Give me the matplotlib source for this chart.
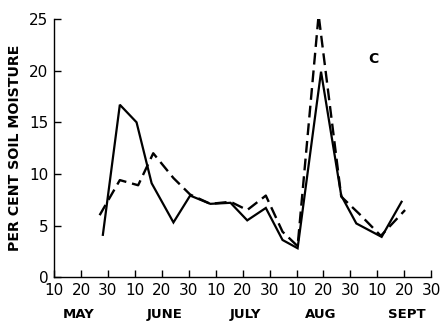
import matplotlib
matplotlib.use('Agg')
import matplotlib.pyplot as plt

# x positions: days after 1 May on the chart's 10-day grid (10 May = 10, 30 Sept = 150)
solid_day = [28.1, 34.4, 40.6, 46.2, 54.3, 60.5, 68.0, 75.5, 81.7, 88.6, 94.8, 100.4, 109.1, 116.6, 122.2, 131.6, 139.0]
solid_pct = [4.1, 16.7, 15.0, 9.1, 5.3, 7.9, 7.1, 7.2, 5.5, 6.7, 3.6, 2.8, 19.9, 7.9, 5.2, 3.9, 7.3]

dashed_day = [26.9, 34.4, 41.2, 46.8, 54.3, 60.5, 68.0, 75.5, 81.7, 88.6, 94.8, 100.4, 108.2, 116.6, 123.4, 131.3, 140.3]
dashed_pct = [6.0, 9.4, 8.9, 12.0, 9.6, 8.0, 7.1, 7.3, 6.5, 7.9, 4.4, 3.0, 25.4, 7.8, 6.1, 4.0, 6.5]

tick_days = list(range(10, 151, 10))
tick_labels = ['10', '20', '30'] * 5
months = ['MAY', 'JUNE', 'JULY', 'AUG', 'SEPT']
month_pos = [19, 51, 81, 109, 141]

fig = plt.figure(figsize=(4.4, 3.23), dpi=100)
ax = fig.add_axes([0.123, 0.142, 0.857, 0.799])

ax.plot(solid_day, solid_pct, color='black', linewidth=1.6, solid_joinstyle='miter')
ax.plot(dashed_day, dashed_pct, color='black', linewidth=1.7, dashes=(5, 2.5))

ax.set_xlim(10, 150)
ax.set_ylim(0, 25)
ax.spines['top'].set_visible(False)
ax.spines['right'].set_visible(False)
ax.spines['left'].set_linewidth(1.0)
ax.spines['bottom'].set_linewidth(1.0)

tick_font = ['Liberation Sans Narrow', 'DejaVu Sans']
ax.set_xticks(tick_days)
ax.set_xticklabels(tick_labels, family=tick_font, fontsize=11)
ax.set_yticks([0, 5, 10, 15, 20, 25])
ax.set_yticklabels(['0', '5', '10', '15', '20', '25'], family=tick_font, fontsize=11)
ax.tick_params(direction='in', length=5, width=1.0, pad=4)

for m, p in zip(months, month_pos):
    ax.text(p, -0.145, m, transform=ax.get_xaxis_transform(), ha='center', va='center',
            fontsize=9.5, fontweight='bold')

ax.set_ylabel('PER CENT SOIL MOISTURE', fontsize=10.2, fontweight='bold', labelpad=5)
ax.text(128.4, 21.1, 'C', fontsize=10, fontweight='bold', ha='center', va='center')

fig.savefig('out.png', dpi=100)
